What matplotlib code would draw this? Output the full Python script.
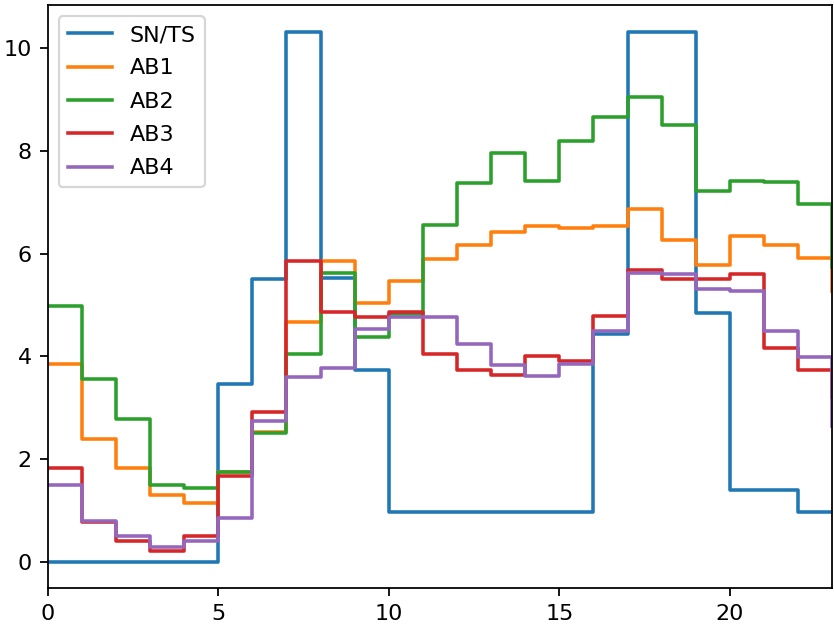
"""
Hourly step profiles: SN/TS against the four AB series.
Writes: out.png
"""
import matplotlib
matplotlib.use("Agg")
import matplotlib.pyplot as plt

HOURS = [0, 1, 2, 3, 4, 5, 6, 7, 8, 9, 10, 11, 12, 13, 14, 15, 16, 17, 18, 19, 20, 21, 22, 23]

SN_TS = [0.0, 0.0, 0.0, 0.0, 0.0, 3.46, 5.51, 10.32, 5.52, 3.74, 0.97, 0.97,
         0.97, 0.97, 0.97, 0.97, 4.43, 10.32, 10.32, 4.85, 1.40, 1.40, 0.97, 0.97]
AB1 = [3.86, 2.39, 1.83, 1.31, 1.15, 1.74, 2.53, 4.67, 5.86, 5.03, 5.46, 5.89,
       6.16, 6.42, 6.54, 6.49, 6.54, 6.87, 6.26, 5.77, 6.34, 6.16, 5.92, 5.28]
AB2 = [4.97, 3.56, 2.78, 1.49, 1.43, 1.75, 2.50, 4.05, 5.62, 4.37, 4.82, 6.55,
       7.37, 7.96, 7.42, 8.19, 8.66, 9.05, 8.50, 7.22, 7.42, 7.39, 6.97, 5.73]
AB3 = [1.83, 0.78, 0.40, 0.21, 0.50, 1.67, 2.91, 5.86, 4.86, 4.76, 4.87, 4.05,
       3.74, 3.64, 4.00, 3.90, 4.79, 5.68, 5.51, 5.50, 5.61, 4.17, 3.73, 3.20]
AB4 = [1.50, 0.80, 0.50, 0.29, 0.41, 0.85, 2.75, 3.60, 3.78, 4.53, 4.76, 4.76,
       4.24, 3.83, 3.61, 3.86, 4.49, 5.62, 5.60, 5.31, 5.27, 4.50, 3.98, 2.65]

SERIES = {
    "SN/TS": SN_TS,
    "AB1": AB1,
    "AB2": AB2,
    "AB3": AB3,
    "AB4": AB4,
}


def main():
    fig, ax = plt.subplots(figsize=(834 / 160, 626 / 160), dpi=160)
    fig.subplots_adjust(left=0.057, right=0.998, top=0.992, bottom=0.060)

    for name, vals in SERIES.items():
        ax.plot(HOURS, vals, drawstyle="steps-post", label=name, lw=1.6)

    ax.set_xlim(HOURS[0], HOURS[-1])
    ax.legend(loc="upper left", labelspacing=0.6)

    fig.savefig("out.png", dpi=160)
    plt.close(fig)


if __name__ == "__main__":
    main()
